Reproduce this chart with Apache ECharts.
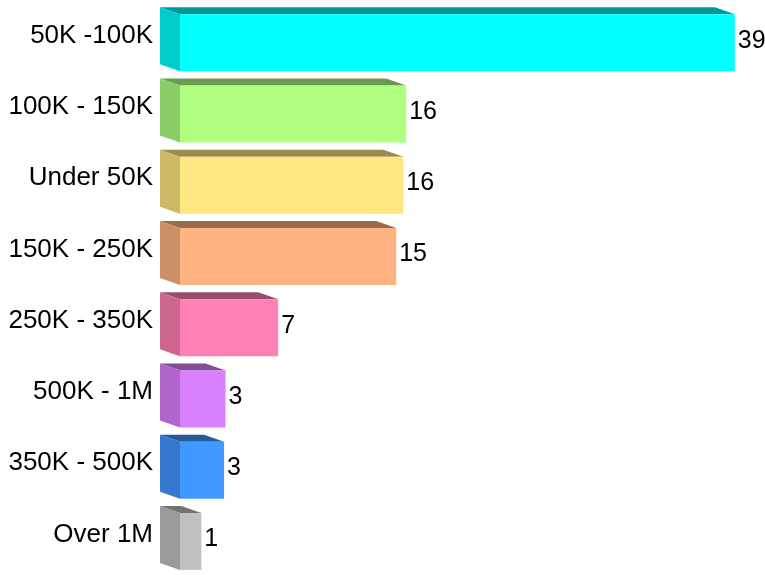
<!DOCTYPE html>
<html>
<head>
<meta charset="utf-8">
<script src="https://cdn.jsdelivr.net/npm/echarts@6/dist/echarts.min.js"></script>
<style>html,body{margin:0;padding:0;background:#fff}#c{width:765px;height:575px}</style>
</head>
<body>
<div id="c"></div>
<script>
var categories = ["50K -100K", "100K - 150K", "Under 50K", "150K - 250K", "250K - 350K", "500K - 1M", "350K - 500K", "Over 1M"];
var values = [39, 15.9, 15.7, 15.2, 6.9, 3.2, 3.1, 1.5];
var valueLabels = ["39", "16", "16", "15", "7", "3", "3", "1"];
var frontColors = ["#00FFFF", "#B0FF80", "#FFE680", "#FFB380", "#FF80B3", "#D980FF", "#4099FF", "#C0C0C0"];
var sideColors  = ["#00CCCC", "#8CCC66", "#CCB866", "#CC8F66", "#CC668F", "#AE66CC", "#3378CC", "#9A9A9A"];
var topColors   = ["#009999", "#6A9950", "#998A4D", "#996B4D", "#994D6B", "#824D99", "#265A99", "#737373"];

var chart = echarts.init(document.getElementById('c'), null, {renderer: 'canvas'});
var data = values.map(function (v, i) { return [v, i]; });
var FONT = "'Liberation Sans', Arial, Helvetica, sans-serif";

chart.setOption({
  animation: false,
  grid: {left: 180, width: 569, top: -3, bottom: 5},
  xAxis: {type: 'value', min: 0, max: 40, show: false, splitLine: {show: false}},
  yAxis: {
    type: 'category', data: categories, inverse: true,
    axisLine: {show: false}, axisTick: {show: false}, splitLine: {show: false},
    axisLabel: {margin: 27, fontSize: 26, color: '#000', fontFamily: FONT}
  },
  series: [{
    type: 'custom',
    encode: {x: 0, y: 1},
    data: data,
    renderItem: function (params, api) {
      var val = api.value(0), cat = api.value(1);
      var p0 = api.coord([0, cat]);
      var p1 = api.coord([val, cat]);
      var band = api.size([0, 1])[1];
      var h = band * 0.8;
      var dx = 20, dy = 7;
      var x0 = p0[0], xv = p1[0];
      var yb = p0[1] - h / 2;
      var i = params.dataIndex;
      return {
        type: 'group',
        children: [
          {type: 'polygon', shape: {points: [[x0 - dx, yb], [xv - dx, yb], [xv, yb + dy], [x0, yb + dy]]},
           style: {fill: topColors[i]}},
          {type: 'polygon', shape: {points: [[x0 - dx, yb], [x0, yb + dy], [x0, yb + dy + h], [x0 - dx, yb + h]]},
           style: {fill: sideColors[i]}},
          {type: 'rect', shape: {x: x0, y: yb + dy, width: xv - x0, height: h},
           style: {fill: frontColors[i]}},
          {type: 'text', x: xv + 3, y: yb + dy + h / 2 - 2,
           style: {text: valueLabels[i], fill: '#000', font: '25px ' + FONT, align: 'left', verticalAlign: 'middle'}}
        ]
      };
    }
  }]
});
</script>
</body>
</html>
